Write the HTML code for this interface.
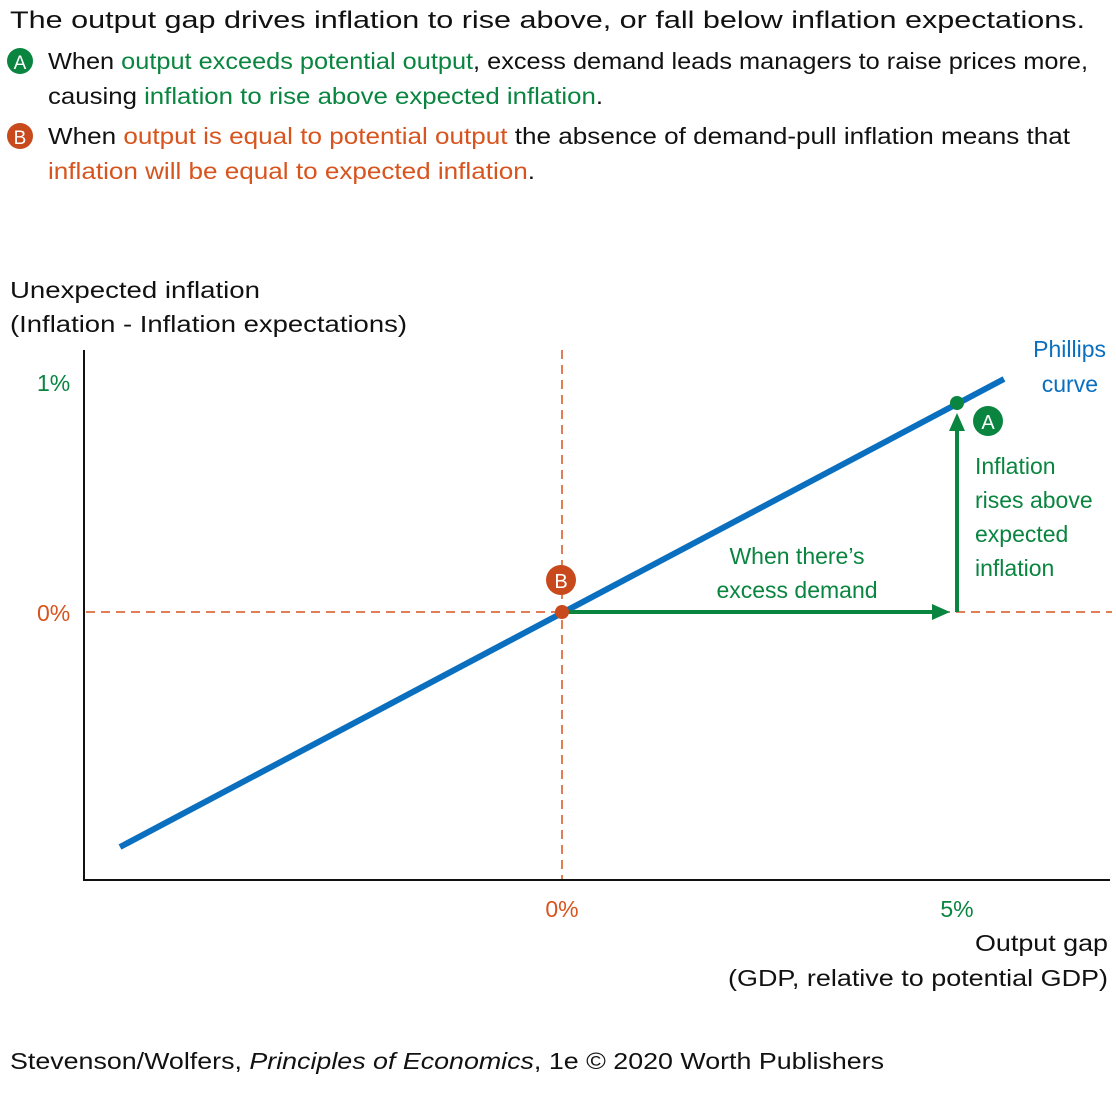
<!DOCTYPE html>
<html><head><meta charset="utf-8"><style>
html,body{margin:0;padding:0;background:#fff}
svg text{font-family:"Liberation Sans",sans-serif}
</style></head><body>
<svg width="1116" height="1089" viewBox="0 0 1116 1089" xmlns="http://www.w3.org/2000/svg">
<g font-size="23" fill="#111">
<text x="10" y="28" font-size="24" textLength="1075" lengthAdjust="spacingAndGlyphs">The output gap drives inflation to rise above, or fall below inflation expectations.</text>
<circle cx="20" cy="61" r="13" fill="#0a8540"/><text x="20" y="69" fill="#fff" font-size="19" text-anchor="middle">A</text>
<text x="48" y="69" textLength="1040" lengthAdjust="spacingAndGlyphs">When <tspan fill="#0a8540">output exceeds potential output</tspan>, excess demand leads managers to raise prices more,</text>
<text x="48" y="104" textLength="555" lengthAdjust="spacingAndGlyphs">causing <tspan fill="#0a8540">inflation to rise above expected inflation</tspan>.</text>
<circle cx="20" cy="136" r="13" fill="#c8491c"/><text x="20" y="144" fill="#fff" font-size="19" text-anchor="middle">B</text>
<text x="48" y="144" textLength="1022" lengthAdjust="spacingAndGlyphs">When <tspan fill="#d8541e">output is equal to potential output</tspan> the absence of demand-pull inflation means that</text>
<text x="48" y="179" textLength="487" lengthAdjust="spacingAndGlyphs"><tspan fill="#d8541e">inflation will be equal to expected inflation</tspan>.</text>
<text x="10" y="298" textLength="250" lengthAdjust="spacingAndGlyphs">Unexpected inflation</text>
<text x="10" y="332" textLength="397" lengthAdjust="spacingAndGlyphs">(Inflation - Inflation expectations)</text>
<text x="1108" y="951" text-anchor="end" textLength="133" lengthAdjust="spacingAndGlyphs">Output gap</text>
<text x="1108" y="986" text-anchor="end" textLength="380" lengthAdjust="spacingAndGlyphs">(GDP, relative to potential GDP)</text>
<text x="10" y="1069" textLength="874" lengthAdjust="spacingAndGlyphs">Stevenson/Wolfers, <tspan font-style="italic">Principles of Economics</tspan>, 1e © 2020 Worth Publishers</text>
<text x="37" y="391" fill="#0a8540">1%</text>
<text x="37" y="621" fill="#d8541e">0%</text>
<text x="562" y="917" fill="#d8541e" text-anchor="middle">0%</text>
<text x="957" y="917" fill="#0a8540" text-anchor="middle">5%</text>
<text x="1106" y="357" fill="#0a6fbf" text-anchor="end">Phillips</text>
<text x="1098" y="392" fill="#0a6fbf" text-anchor="end">curve</text>
<text x="797" y="564" fill="#0a8540" text-anchor="middle">When there’s</text>
<text x="797" y="598" fill="#0a8540" text-anchor="middle">excess demand</text>
<text x="975" y="474" fill="#0a8540">Inflation</text>
<text x="975" y="508" fill="#0a8540">rises above</text>
<text x="975" y="542" fill="#0a8540">expected</text>
<text x="975" y="576" fill="#0a8540">inflation</text>
</g>
<g stroke="#d8541e" stroke-width="1.5" stroke-dasharray="9,6" fill="none">
<line x1="562" y1="350" x2="562" y2="880"/>
<line x1="86" y1="612" x2="1112" y2="612"/>
</g>
<path d="M84 350 V880 H1110" stroke="#111" stroke-width="2" fill="none"/>
<line x1="120" y1="847" x2="1004" y2="379" stroke="#0a6fbf" stroke-width="6"/>
<line x1="565" y1="612" x2="935" y2="612" stroke="#0a8540" stroke-width="4"/>
<polygon points="950,612 932,604 932,620" fill="#0a8540"/>
<line x1="957" y1="612" x2="957" y2="428" stroke="#0a8540" stroke-width="4"/>
<polygon points="957,413 949,431 965,431" fill="#0a8540"/>
<circle cx="957" cy="403" r="7" fill="#0a8540"/>
<circle cx="562" cy="612" r="7" fill="#c8491c"/>
<circle cx="988" cy="421" r="15" fill="#0a8540"/>
<text x="988" y="429" fill="#fff" font-size="20" text-anchor="middle">A</text>
<circle cx="561" cy="580" r="15" fill="#c8491c"/>
<text x="561" y="588" fill="#fff" font-size="20" text-anchor="middle">B</text>
</svg>
</body></html>
